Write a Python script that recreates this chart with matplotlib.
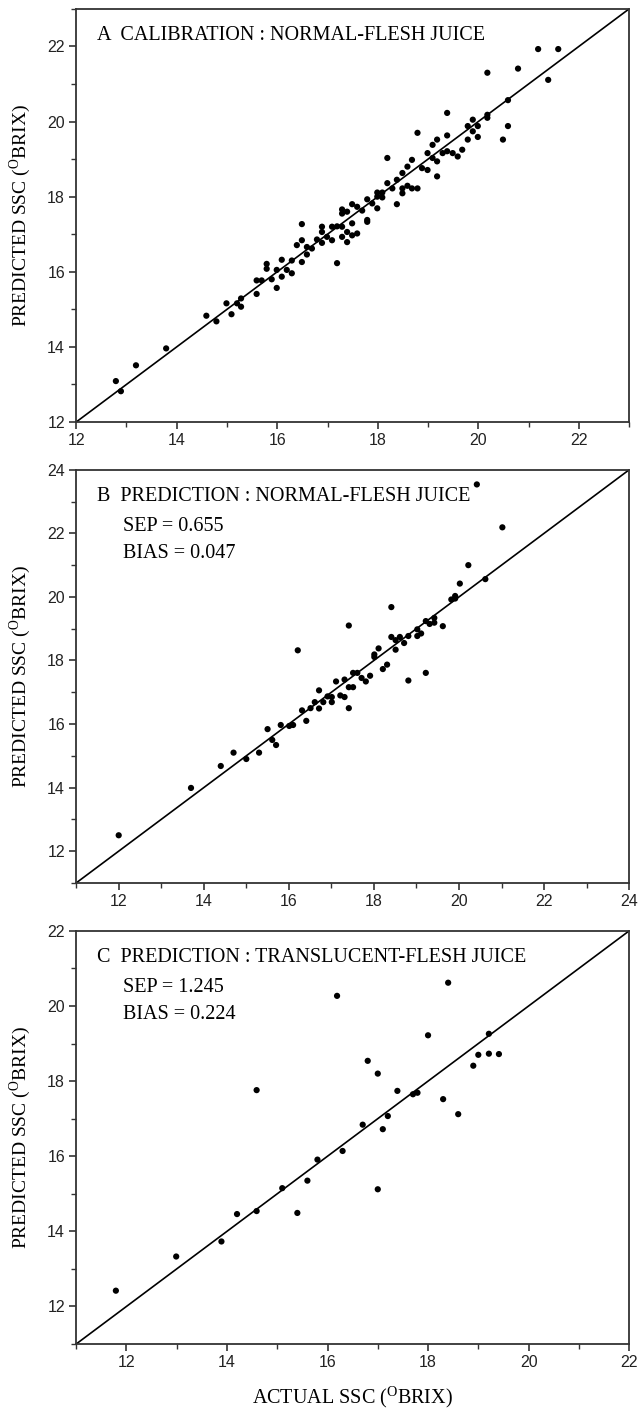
import matplotlib
matplotlib.use("Agg")
import matplotlib.pyplot as plt
from matplotlib.ticker import MultipleLocator
import numpy as np

plt.rcParams["font.family"] = ["Liberation Sans", "DejaVu Sans"]
plt.rcParams["mathtext.fontset"] = "custom"
plt.rcParams["mathtext.rm"] = "Liberation Serif"

# panel A: calibration, normal-flesh juice
cal_actual = [12.79, 12.89, 13.19, 13.79, 14.59, 14.79, 14.99, 15.09, 15.20, 15.28,
              15.28, 15.59, 15.59, 15.69, 15.79, 15.79, 15.89, 15.99, 15.99, 16.09,
              16.09, 16.19, 16.29, 16.29, 16.39, 16.49, 16.49, 16.49, 16.59, 16.59,
              16.69, 16.79, 16.89, 16.89, 16.89, 16.99, 17.09, 17.09, 17.19, 17.19,
              17.29, 17.29, 17.29, 17.29, 17.39, 17.39, 17.39, 17.49, 17.49, 17.49,
              17.59, 17.59, 17.69, 17.79, 17.79, 17.79, 17.89, 17.99, 17.99, 17.99,
              18.09, 18.09, 18.19, 18.19, 18.29, 18.38, 18.38, 18.49, 18.49, 18.49,
              18.59, 18.59, 18.68, 18.68, 18.79, 18.79, 18.88, 18.99, 18.99, 19.09,
              19.09, 19.18, 19.18, 19.18, 19.29, 19.38, 19.38, 19.38, 19.49, 19.59,
              19.68, 19.79, 19.79, 19.89, 19.89, 19.99, 19.99, 20.18, 20.18, 20.18,
              20.49, 20.59, 20.59, 20.79, 21.19, 21.39, 21.59]
cal_pred = [13.09, 12.82, 13.51, 13.96, 14.83, 14.68, 15.16, 14.87, 15.16, 15.07,
            15.29, 15.41, 15.77, 15.77, 16.21, 16.08, 15.80, 15.57, 16.05, 16.32,
            15.87, 16.05, 15.96, 16.30, 16.71, 17.27, 16.84, 16.26, 16.46, 16.66,
            16.62, 16.86, 17.20, 17.06, 16.77, 16.93, 16.84, 17.20, 16.23, 17.21,
            17.20, 16.93, 17.55, 17.66, 17.60, 17.06, 16.79, 17.29, 17.80, 16.97,
            17.02, 17.73, 17.63, 17.93, 17.38, 17.33, 17.82, 18.11, 18.00, 17.69,
            18.11, 17.98, 18.36, 19.03, 18.22, 17.80, 18.45, 18.09, 18.63, 18.22,
            18.29, 18.80, 18.98, 18.22, 18.22, 19.70, 18.76, 18.71, 19.16, 19.38,
            19.03, 19.52, 18.94, 18.54, 19.16, 20.23, 19.63, 19.21, 19.16, 19.07,
            19.25, 19.88, 19.52, 20.05, 19.74, 19.88, 19.59, 20.18, 20.10, 21.30,
            19.52, 20.57, 19.88, 21.41, 21.93, 21.11, 21.93]

# panel B: prediction, normal-flesh juice
nor_actual = [12.00, 13.70, 14.40, 14.70, 15.00, 15.30, 15.50, 15.61, 15.70, 15.81,
              16.01, 16.10, 16.21, 16.31, 16.41, 16.51, 16.61, 16.71, 16.71, 16.81,
              16.91, 17.01, 17.01, 17.11, 17.21, 17.31, 17.31, 17.41, 17.41, 17.41,
              17.51, 17.51, 17.61, 17.71, 17.81, 17.91, 18.01, 18.01, 18.11, 18.21,
              18.31, 18.41, 18.41, 18.51, 18.51, 18.61, 18.71, 18.81, 18.81, 19.02,
              19.02, 19.11, 19.22, 19.22, 19.31, 19.42, 19.42, 19.62, 19.82, 19.91,
              19.91, 20.02, 20.22, 20.42, 20.62, 21.02]
nor_pred = [12.50, 13.99, 14.68, 15.10, 14.90, 15.10, 15.84, 15.50, 15.34, 15.97,
            15.94, 15.97, 18.32, 16.43, 16.10, 16.50, 16.69, 17.06, 16.49, 16.69,
            16.87, 16.85, 16.69, 17.34, 16.90, 16.85, 17.40, 19.10, 16.50, 17.16,
            17.16, 17.61, 17.61, 17.45, 17.34, 17.52, 18.11, 18.19, 18.38, 17.73,
            17.87, 19.68, 18.74, 18.34, 18.64, 18.74, 18.55, 18.77, 17.37, 18.98,
            18.77, 18.85, 17.61, 19.24, 19.15, 19.34, 19.19, 19.08, 19.92, 20.03,
            19.95, 20.42, 21.00, 23.54, 20.56, 22.19]

# panel C: prediction, translucent-flesh juice
tra_actual = [11.79, 12.99, 13.89, 14.20, 14.59, 14.59, 15.10, 15.40, 15.60, 15.80,
              16.19, 16.30, 16.70, 16.80, 17.00, 17.00, 17.10, 17.20, 17.39, 17.70,
              17.79, 18.00, 18.30, 18.40, 18.60, 18.90, 19.00, 19.21, 19.21, 19.41]
tra_pred = [12.42, 13.33, 13.73, 14.46, 14.54, 17.76, 15.15, 14.49, 15.35, 15.91,
            20.27, 16.14, 16.84, 18.54, 18.20, 15.12, 16.72, 17.07, 17.74, 17.65,
            17.69, 19.22, 17.52, 20.62, 17.12, 18.41, 18.70, 19.26, 18.73, 18.72]

panels = [
    (cal_actual, cal_pred, (12, 23), ["A  CALIBRATION : NORMAL-FLESH JUICE"]),
    (nor_actual, nor_pred, (11, 24), ["B  PREDICTION : NORMAL-FLESH JUICE",
                                      "SEP = 0.655", "BIAS = 0.047"]),
    (tra_actual, tra_pred, (11, 22), ["C  PREDICTION : TRANSLUCENT-FLESH JUICE",
                                      "SEP = 1.245", "BIAS = 0.224"]),
]
bottoms = [0.7007, 0.3738, 0.0468]

fig = plt.figure(figsize=(6.4, 14.1), dpi=100)
serif = "Liberation Serif"
ylab = r"PREDICTED SSC ($^{\mathrm{O}}$BRIX)"

for (xs, ys, lim, texts), b in zip(panels, bottoms):
    ax = fig.add_axes([0.119, b, 0.864, 0.293])
    ax.plot(lim, lim, color="black", linewidth=1.2, zorder=1)
    ax.scatter(xs, ys, s=20, color="black", edgecolors="none", zorder=2)
    ax.set_xlim(lim)
    ax.set_ylim(lim)
    ax.xaxis.set_major_locator(MultipleLocator(2))
    ax.yaxis.set_major_locator(MultipleLocator(2))
    ax.xaxis.set_minor_locator(MultipleLocator(1))
    ax.yaxis.set_minor_locator(MultipleLocator(1))
    ax.tick_params(which="major", direction="out", length=5, width=1.2,
                   labelsize=11.5, color="#333333", labelcolor="#222222", pad=3)
    ax.tick_params(which="minor", direction="out", length=3.5, width=1.0,
                   color="#333333")
    for sp in ax.spines.values():
        sp.set_linewidth(1.3)
        sp.set_color("#333333")
    ax.set_ylabel(ylab, fontfamily=serif, fontsize=14)
    ax.yaxis.set_label_coords(-0.078, 0.5)

    ax.text(0.038, 0.935, texts[0], transform=ax.transAxes, fontfamily=serif,
            fontsize=14.5, va="center", ha="left")
    for i, t in enumerate(texts[1:]):
        ax.text(0.085, 0.862 - 0.064 * i, t, transform=ax.transAxes,
                fontfamily=serif, fontsize=14.5, va="center", ha="left")

ax.set_xlabel(r"ACTUAL SSC ($^{\mathrm{O}}$BRIX)", fontfamily=serif,
              fontsize=14.5)
ax.xaxis.set_label_coords(0.5, -0.098)

fig.savefig("out.png", dpi=100)
